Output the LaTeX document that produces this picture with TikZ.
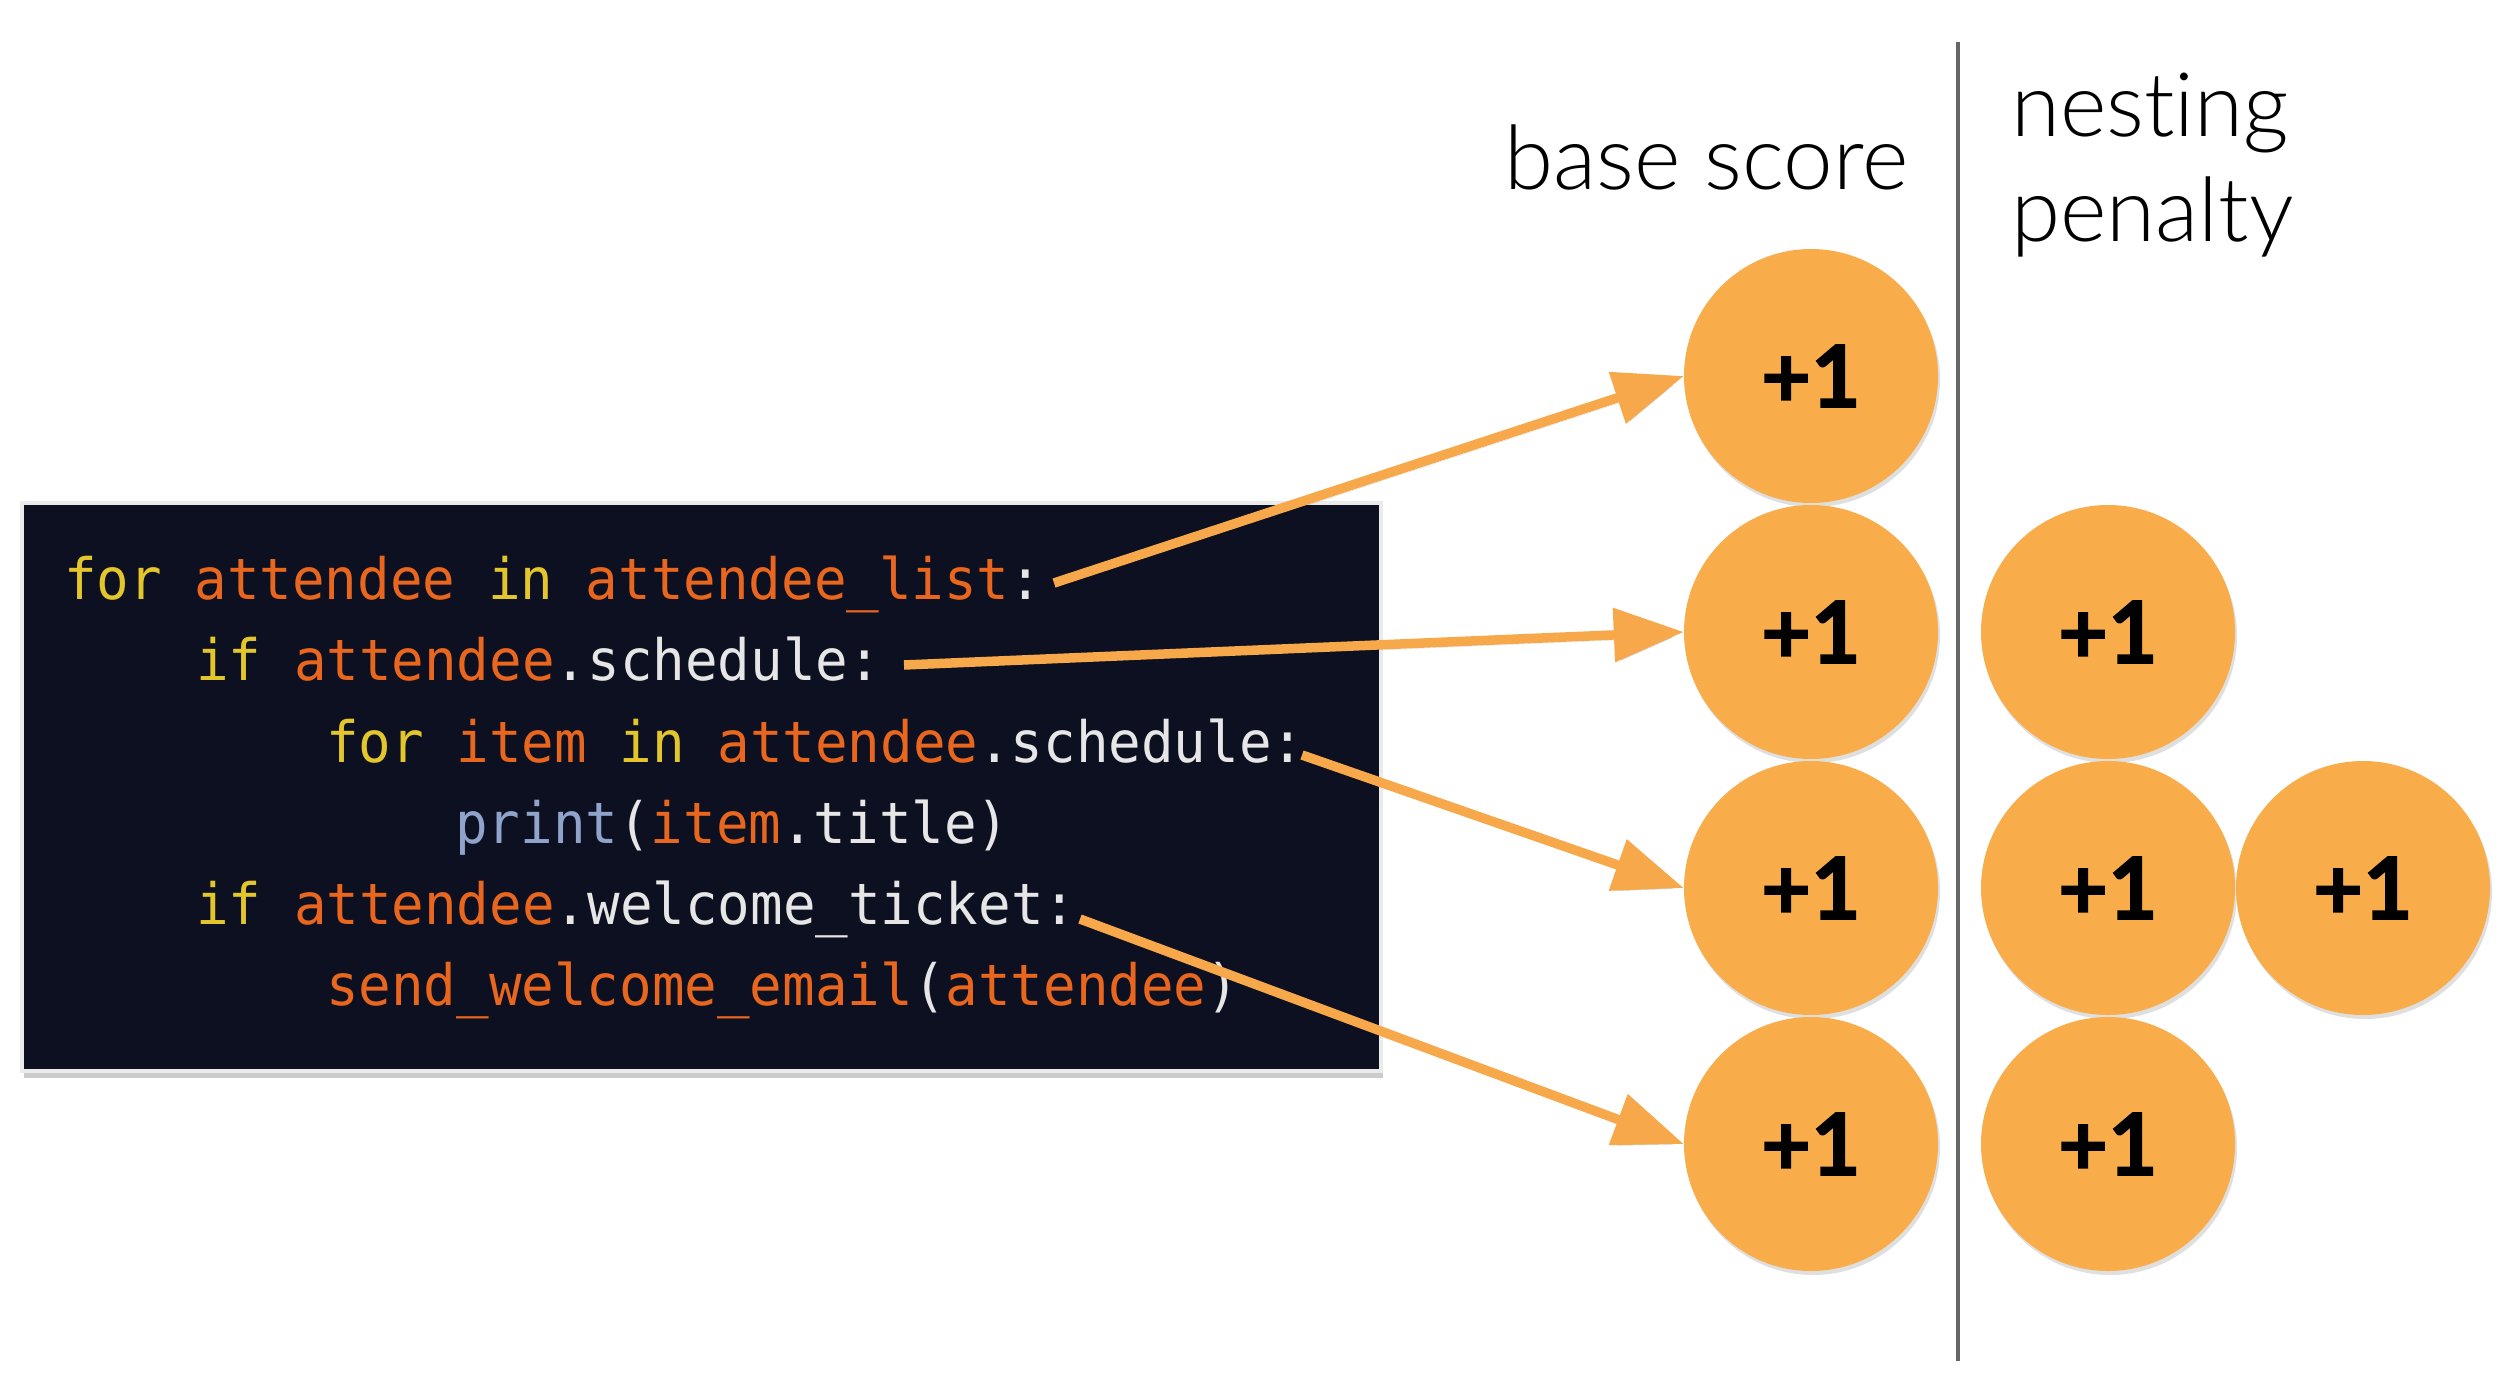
\documentclass[tikz,border=0pt]{standalone}
\usepackage{fontspec}
\usetikzlibrary{arrows.meta,shadows}
\newfontfamily\codefont{DejaVu Sans Mono}[FakeStretch=0.95]
\newfontfamily\headfont{Lato Light}[Ligatures={NoCommon,NoRequired,NoContextual}]
\newfontfamily\circfont{Lato}[BoldFeatures={FakeBold=1.6}]
\definecolor{kw}{HTML}{E3C62C}
\definecolor{idn}{HTML}{E8661E}
\definecolor{txt}{HTML}{E6E6E6}
\definecolor{fn}{HTML}{8FA3CB}
\definecolor{bg}{HTML}{0D1020}
\definecolor{circ}{HTML}{F8AC4A}
\definecolor{arr}{HTML}{F6A84A}
\definecolor{rule}{HTML}{666666}
\tikzset{
  codebox/.style={draw=black!8, line width=4pt, fill=bg, anchor=north west, inner sep=0pt,
    minimum width=1359pt, minimum height=568pt,
    drop shadow={opacity=0.4, shadow xshift=2pt, shadow yshift=-7pt}},
  codeline/.style={anchor=base west, inner sep=0pt, text=txt, font=\codefont\fontsize{57}{68}\selectfont},
  head/.style={anchor=base west, inner sep=0pt, text=black, font=\headfont\fontsize{89}{100}\selectfont},
  score/.style={circle, fill=circ, minimum size=254pt, inner sep=0pt, text=black,
    font=\circfont\bfseries\fontsize{86}{86}\selectfont,
    drop shadow={opacity=0.25, shadow xshift=2pt, shadow yshift=-4pt}},
  link/.style={draw=arr, line width=9.5pt, -{Triangle[length=70pt, width=52pt]},
    preaction={draw=black, opacity=0.12, transform canvas={shift={(2pt,-5pt)}}}},
}
\begin{document}
\begin{tikzpicture}[x=1pt, y=-1pt]
\useasboundingbox (0,0) rectangle (2510,1388);
\fill[white] (0,0) rectangle (2510,1388);
% code box
\node[codebox] (box) at (20,501) {};
\node[codeline] (l1) at (64,599) {\textcolor{kw}{for} \textcolor{idn}{attendee} \textcolor{kw}{in} \textcolor{idn}{attendee\_list}:};
\node[codeline] (l2) at (196,680) {\textcolor{kw}{if} \textcolor{idn}{attendee}.schedule:};
\node[codeline] (l3) at (326,762) {\textcolor{kw}{for} \textcolor{idn}{item} \textcolor{kw}{in} \textcolor{idn}{attendee}.schedule:};
\node[codeline] (l4) at (455,843) {\textcolor{fn}{print}(\textcolor{idn}{item}.title)};
\node[codeline] (l5) at (196,924) {\textcolor{kw}{if} \textcolor{idn}{attendee}.welcome\_ticket:};
\node[codeline] (l6) at (326,1005) {\textcolor{idn}{send\_welcome\_email}(\textcolor{idn}{attendee})};
% headings and divider
\node[head] (base) at (1504,190) {base score};
\node[head] (pen1) at (2011,137) {nesting};
\node[head] (pen2) at (2011,242) {penalty};
\coordinate (rtop) at (1958,42);
\coordinate (rbot) at (1958,1361);
\draw[rule, line width=4.5pt] (rtop) -- (rbot);
% circles
\node[score] (b1) at (1811,376) {+1};
\node[score] (b2) at (1811,632) {+1};
\node[score] (b3) at (1811,888) {+1};
\node[score] (b4) at (1811,1144) {+1};
\node[score] (n2) at (2108,632) {+1};
\node[score] (n3) at (2108,888) {+1};
\node[score] (n4) at (2108,1144) {+1};
\node[score] (m3) at (2363,888) {+1};
% arrows
\coordinate (a1) at (1054,583);
\coordinate (a2) at (904,665);
\coordinate (a3) at (1302,755);
\coordinate (a4) at (1080,919);
\draw[link] (a1) -- (b1.west);
\draw[link] (a2) -- (b2.west);
\draw[link] (a3) -- (b3.west);
\draw[link] (a4) -- (b4.west);
\end{tikzpicture}
\end{document}
